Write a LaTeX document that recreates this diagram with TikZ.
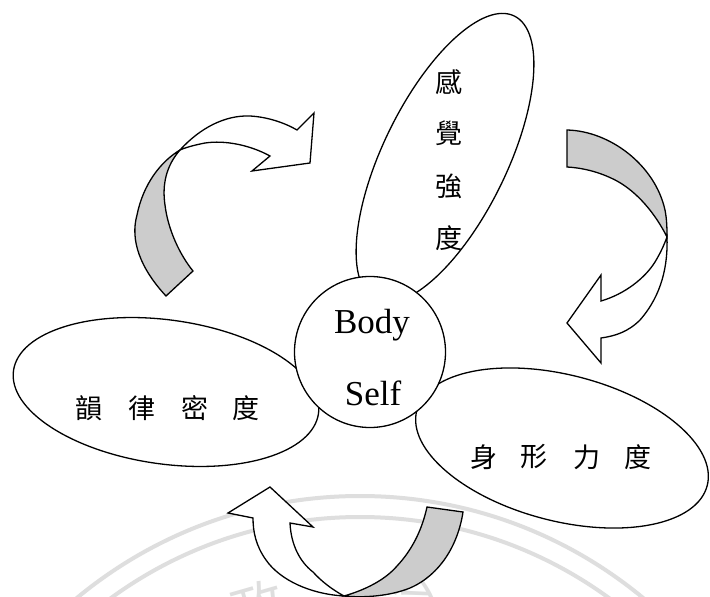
\documentclass[tikz,border=0pt]{standalone}
\usepackage{fontspec}
\setmainfont{Liberation Serif}
\newfontfamily\cjk{Noto Sans CJK TC}
\usetikzlibrary{shapes.geometric}
\definecolor{bandgray}{RGB}{204,204,204}
\definecolor{wmgray}{RGB}{222,222,222}
\tikzset{
  outline/.style={draw=black, line width=1.3pt, line join=miter},
  oval/.style={ellipse, outline, fill=white, inner sep=0pt},
  backband/.style={outline, fill=bandgray},
  frontband/.style={outline, fill=white},
  cjklabel/.style={font=\cjk\fontsize{27}{27}\selectfont, inner sep=0pt},
  latinlabel/.style={font=\fontsize{35}{35}\selectfont, inner sep=0pt, anchor=base},
  wmark/.style={draw=wmgray, line width=4pt},
  wmchar/.style={text=wmgray, font=\cjk\fontsize{52}{52}\selectfont, inner sep=0pt}
}
\begin{document}
\begin{tikzpicture}[x=1pt, y=-1pt]
\useasboundingbox (0,0) rectangle (710,597);
\clip (0,0) rectangle (710,597);
\fill[white] (0,0) rectangle (710,597);

% faint watermark
\draw[wmark] (360,940) circle[radius=444pt];
\draw[wmark] (360,940) circle[radius=423pt];
\node[wmchar, rotate=16] (wm1) at (258,606) {政};
\node[wmchar, rotate=-6] (wm2) at (410,598) {治};

% ovals
\node[oval, minimum width=316pt, minimum height=124pt, rotate=64] (top) at (445,158) {};
\node[oval, minimum width=308pt, minimum height=144pt, rotate=-8] (left) at (166,392) {};
\node[oval, minimum width=300pt, minimum height=146pt, rotate=-14.5] (right) at (562,448) {};

% centre circle
\node[circle, outline, fill=white, minimum size=151pt, inner sep=0pt] (core) at (370,352) {};
\node[latinlabel] (body) at (372,333) {Body};
\node[latinlabel] (self) at (373,405) {Self};

% labels
\node[cjklabel] (t1) at (449,82) {感};
\node[cjklabel] (t2) at (449,133) {覺};
\node[cjklabel] (t3) at (449,186) {強};
\node[cjklabel] (t4) at (449,238) {度};
\node[cjklabel] (l1) at (89,408) {韻};
\node[cjklabel] (l2) at (142,408) {律};
\node[cjklabel] (l3) at (195,408) {密};
\node[cjklabel] (l4) at (246,408) {度};
\node[cjklabel] (r1) at (484,457) {身};
\node[cjklabel] (r2) at (534,457) {形};
\node[cjklabel] (r3) at (587,457) {力};
\node[cjklabel] (r4) at (638,457) {度};

% curved arrow, upper left
\coordinate (p1) at (180,150);
\filldraw[backband] (166,296) .. controls (140,268) and (130,240) .. (137,215)
  .. controls (143,185) and (160,162) .. (p1)
  .. controls (166,166) and (162,185) .. (165,205)
  .. controls (168,230) and (180,255) .. (193,271) -- cycle;
\filldraw[frontband] (p1) .. controls (200,128) and (225,115) .. (250,116)
  .. controls (268,117) and (285,123) .. (297,130) -- (314,113) -- (310,163)
  -- (252,171) -- (270,156)
  .. controls (250,145) and (225,140) .. (205,143)
  .. controls (195,145) and (187,147) .. (p1) -- cycle;

% curved arrow, right
\coordinate (p2) at (667,237);
\filldraw[backband] (567,130) .. controls (610,131) and (655,165) .. (665,210)
  .. controls (667,220) and (667,230) .. (p2)
  .. controls (655,213) and (637,192) .. (617,181)
  .. controls (602,173) and (585,168) .. (567,167) -- cycle;
\filldraw[frontband] (p2) .. controls (668,265) and (662,295) .. (640,320)
  .. controls (628,332) and (615,336) .. (601,338) -- (601,363) -- (567,323)
  -- (601,275) -- (601,301)
  .. controls (625,294) and (645,278) .. (655,262)
  .. controls (661,252) and (664,245) .. (p2) -- cycle;

% curved arrow, bottom
\coordinate (p3) at (344,596);
\filldraw[backband] (427,507) -- (463,512) .. controls (458,545) and (440,575) .. (410,588)
  .. controls (390,596) and (365,598) .. (p3)
  .. controls (365,590) and (385,580) .. (397,566)
  .. controls (412,550) and (422,530) .. (427,507) -- cycle;
\filldraw[frontband] (p3) .. controls (310,594) and (280,580) .. (266,560)
  .. controls (256,546) and (253,532) .. (253,518) -- (228,513) -- (270,487)
  -- (313,527) -- (290,523)
  .. controls (291,545) and (300,562) .. (313,572)
  .. controls (322,582) and (333,590) .. (p3) -- cycle;
\end{tikzpicture}
\end{document}
